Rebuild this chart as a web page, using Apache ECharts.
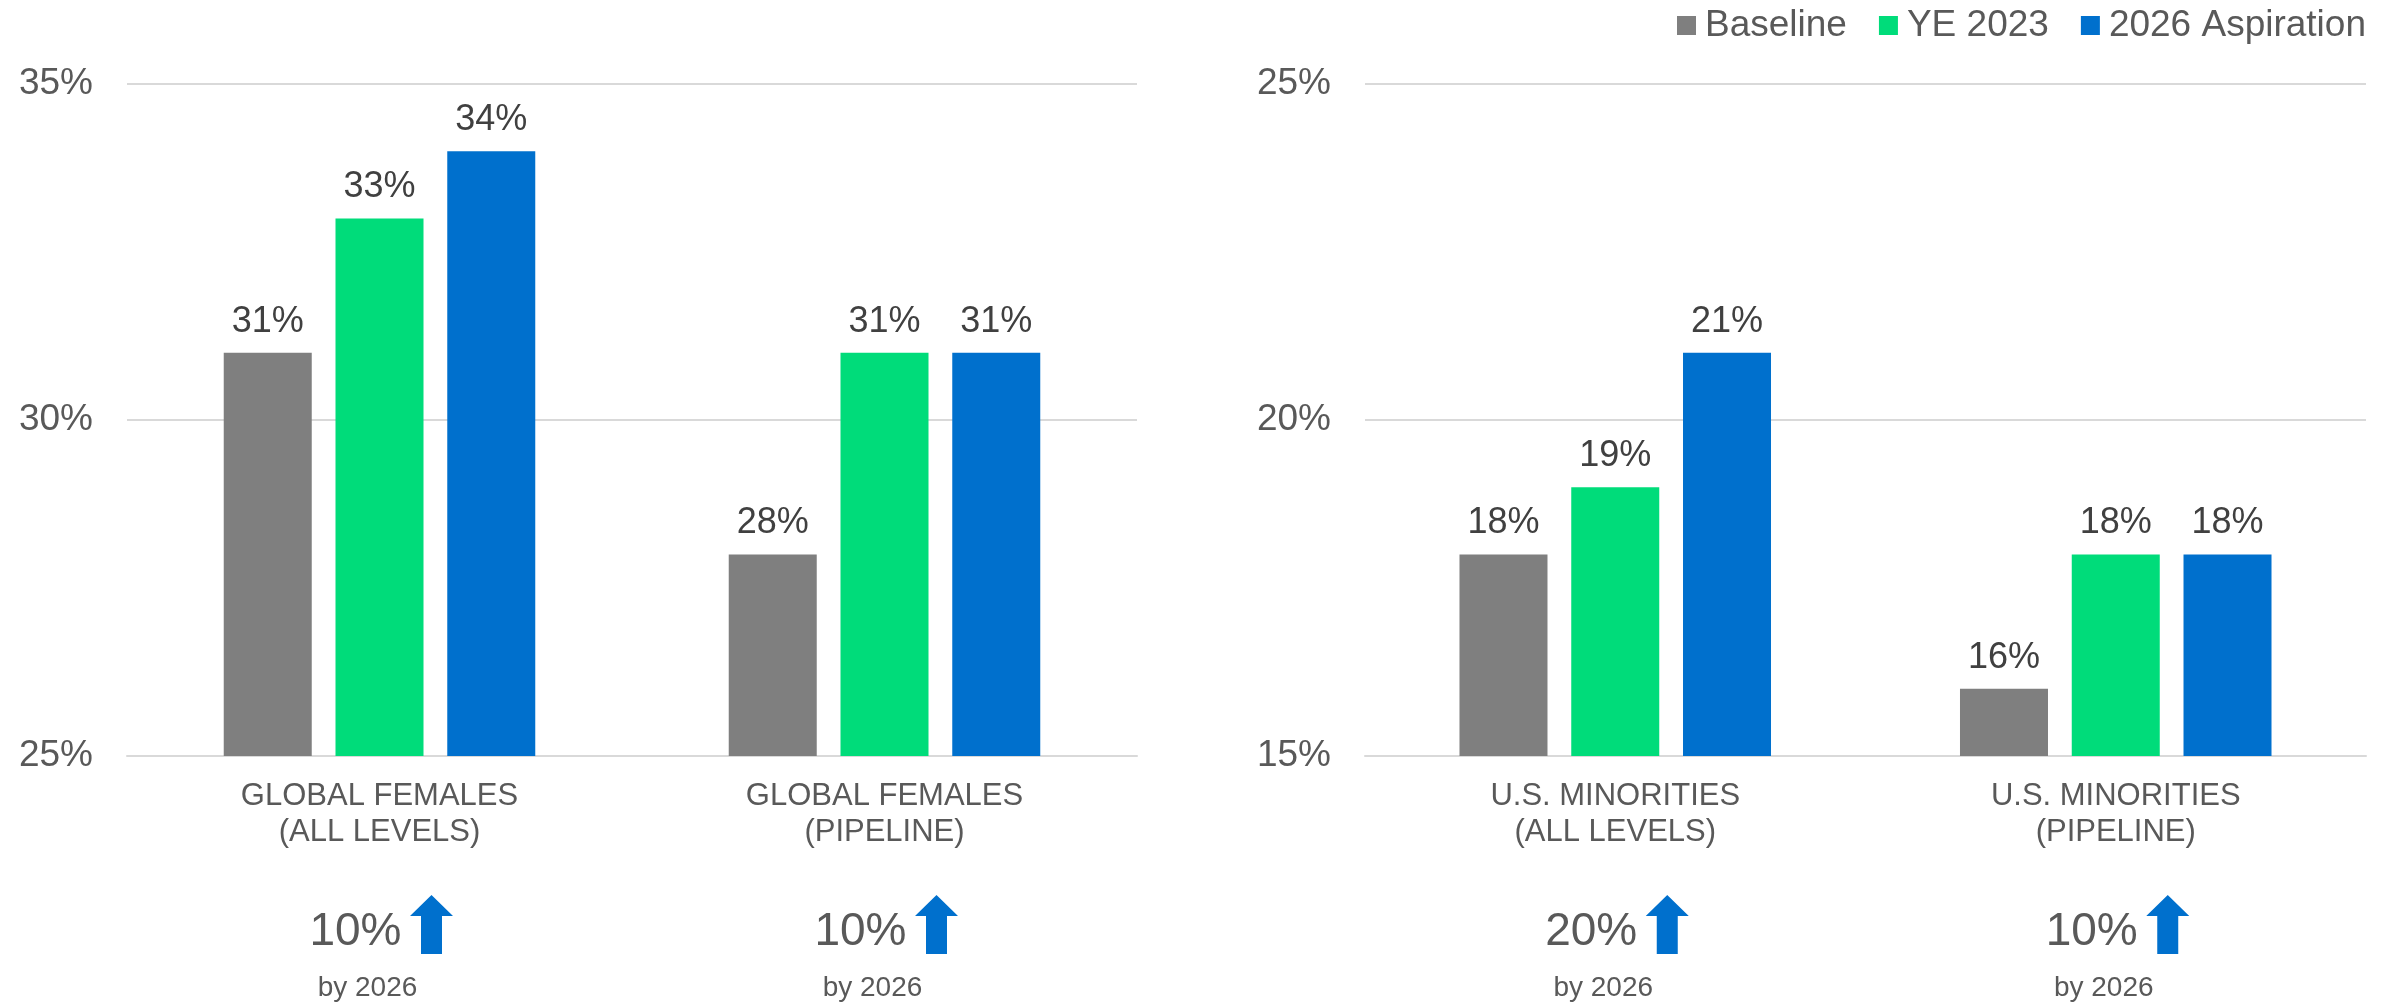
<!DOCTYPE html>
<html>
<head>
<meta charset="utf-8">
<script src="https://cdn.jsdelivr.net/npm/echarts@6/dist/echarts.min.js"></script>
<style>
  html, body { margin: 0; padding: 0; background: #fff; }
  #chart { width: 2397px; height: 1006px; }
</style>
</head>
<body>
<div id="chart"></div>
<script>
(function() {

    // data
    var seriesNames = ['Baseline', 'YE 2023', '2026 Aspiration'];
    var categoriesLeft = ['GLOBAL FEMALES\n(ALL LEVELS)', 'GLOBAL FEMALES\n(PIPELINE)'];
    var categoriesRight = ['U.S. MINORITIES\n(ALL LEVELS)', 'U.S. MINORITIES\n(PIPELINE)'];
    var baselineLeft = [31, 28];
    var ye2023Left = [33, 31];
    var aspirationLeft = [34, 31];
    var baselineRight = [18, 16];
    var ye2023Right = [19, 18];
    var aspirationRight = [21, 18];
    var increaseLabels = ['10%', '10%', '20%', '10%'];
    var byLabel = 'by 2026';

    var colors = ['#7F7F7F', '#00DC7A', '#0070CD'];
    var font = '"Liberation Sans", Arial, sans-serif';

    function barSeries(name, data, axisIndex, color) {
        return {
            name: name,
            type: 'bar',
            xAxisIndex: axisIndex,
            yAxisIndex: axisIndex,
            data: data,
            barWidth: 88,
            barGap: '27%',
            itemStyle: { color: color },
            label: {
                show: true,
                position: 'top',
                distance: 13,
                formatter: '{c}%',
                fontFamily: font,
                fontSize: 36,
                color: '#404040'
            }
        };
    }

    function xAxis(idx, cats) {
        return {
            type: 'category',
            gridIndex: idx,
            data: cats,
            axisTick: { show: false },
            axisLine: { lineStyle: { color: '#D9D9D9', width: 2 } },
            axisLabel: {
                margin: 22,
                fontFamily: font,
                fontSize: 31,
                lineHeight: 36,
                color: '#595959'
            }
        };
    }

    function yAxis(idx, min, max) {
        return {
            type: 'value',
            gridIndex: idx,
            min: min,
            max: max,
            interval: 5,
            axisLine: { show: false },
            axisTick: { show: false },
            splitLine: { lineStyle: { color: '#D9D9D9', width: 2 } },
            axisLabel: {
                margin: 34,
                formatter: '{value}%',
                fontFamily: font,
                fontSize: 37,
                color: '#595959'
            }
        };
    }

    var chart = echarts.init(document.getElementById('chart'));
    chart.setOption({
        animation: false,
        backgroundColor: '#fff',
        legend: {
            data: seriesNames,
            right: 26,
            top: 2,
            icon: 'rect',
            itemWidth: 19,
            itemHeight: 19,
            itemGap: 32,
            textStyle: {
                fontFamily: font,
                fontSize: 37,
                color: '#595959',
                padding: [0, 0, 0, 4]
            }
        },
        grid: [
            { left: 127, top: 84, width: 1010, height: 672 },
            { left: 1365, top: 84, width: 1001, height: 672 }
        ],
        xAxis: [xAxis(0, categoriesLeft), xAxis(1, categoriesRight)],
        yAxis: [yAxis(0, 25, 35), yAxis(1, 15, 25)],
        series: [
            barSeries(seriesNames[0], baselineLeft, 0, colors[0]),
            barSeries(seriesNames[1], ye2023Left, 0, colors[1]),
            barSeries(seriesNames[2], aspirationLeft, 0, colors[2]),
            barSeries(seriesNames[0], baselineRight, 1, colors[0]),
            barSeries(seriesNames[1], ye2023Right, 1, colors[1]),
            barSeries(seriesNames[2], aspirationRight, 1, colors[2])
        ]
    });

    // annotations under each category, placed from the category axis
    var centers = [];
    categoriesLeft.forEach(function(c) {
        centers.push(chart.convertToPixel({ xAxisIndex: 0 }, c));
    });
    categoriesRight.forEach(function(c) {
        centers.push(chart.convertToPixel({ xAxisIndex: 1 }, c));
    });

    var graphics = [];
    centers.forEach(function(cx, i) {
        graphics.push({
            type: 'text',
            x: cx + 22,
            y: 932,
            style: {
                text: increaseLabels[i],
                fontFamily: font,
                fontSize: 46,
                fill: '#595959',
                align: 'right',
                verticalAlign: 'middle'
            }
        });
        var ax = cx + 52, top = 895;
        graphics.push({
            type: 'polygon',
            shape: {
                points: [
                    [ax, top], [ax + 21.5, top + 21], [ax + 10.5, top + 21],
                    [ax + 10.5, top + 59], [ax - 10.5, top + 59],
                    [ax - 10.5, top + 21], [ax - 21.5, top + 21]
                ]
            },
            style: { fill: colors[2] }
        });
        graphics.push({
            type: 'text',
            x: cx - 12,
            y: 988,
            style: {
                text: byLabel,
                fontFamily: font,
                fontSize: 28,
                fill: '#595959',
                align: 'center',
                verticalAlign: 'middle'
            }
        });
    });
    chart.setOption({ graphic: graphics });
} ());
</script>
</body>
</html>
